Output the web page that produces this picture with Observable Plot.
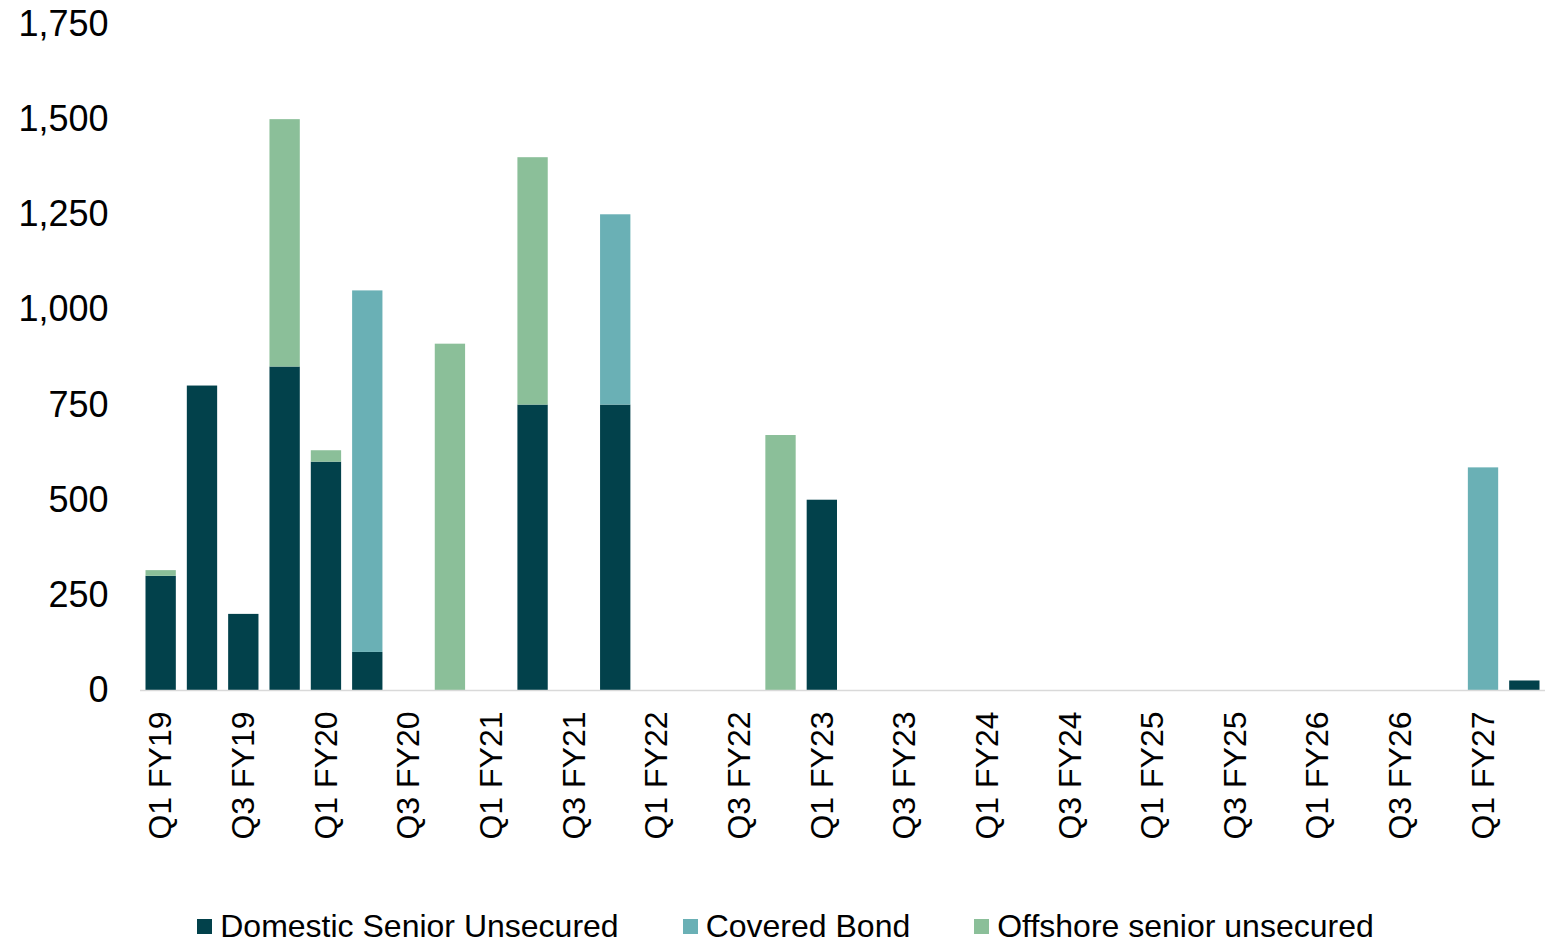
<!DOCTYPE html>
<html>
<head>
<meta charset="utf-8">
<script src="https://cdn.jsdelivr.net/npm/d3@7"></script>
<script src="https://cdn.jsdelivr.net/npm/@observablehq/plot@0.6"></script>
<style>
  body { margin: 0; background: #fff; font-family: "Liberation Sans", Arial, sans-serif; overflow: hidden; }
  #chart svg { display: block; }
  #legend { display: flex; justify-content: center; align-items: center; height: 32px; line-height: 32px; margin-top: 10px; padding-left: 22px; font-size: 32px; color: #000; }
  .item { display: flex; align-items: center; margin: 0 32px; }
  .sw { width: 15px; height: 15px; margin-right: 8px; }
</style>
</head>
<body>
<div id="chart"></div>
<div id="legend"></div>
<script>
const quarters = [
  "Q1 FY19","Q2 FY19","Q3 FY19","Q4 FY19",
  "Q1 FY20","Q2 FY20","Q3 FY20","Q4 FY20",
  "Q1 FY21","Q2 FY21","Q3 FY21","Q4 FY21",
  "Q1 FY22","Q2 FY22","Q3 FY22","Q4 FY22",
  "Q1 FY23","Q2 FY23","Q3 FY23","Q4 FY23",
  "Q1 FY24","Q2 FY24","Q3 FY24","Q4 FY24",
  "Q1 FY25","Q2 FY25","Q3 FY25","Q4 FY25",
  "Q1 FY26","Q2 FY26","Q3 FY26","Q4 FY26",
  "Q1 FY27","Q2 FY27"
];
const tickLabels = [
  "Q1 FY19","Q3 FY19","Q1 FY20","Q3 FY20","Q1 FY21","Q3 FY21","Q1 FY22","Q3 FY22",
  "Q1 FY23","Q3 FY23","Q1 FY24","Q3 FY24","Q1 FY25","Q3 FY25","Q1 FY26","Q3 FY26","Q1 FY27"
];
const domestic = [300,800,200,850, 600,100,0,0, 0,750,0,750, 0,0,0,0, 500,0,0,0, 0,0,0,0, 0,0,0,0, 0,0,0,0, 0,25];
const covered  = [0,0,0,0, 0,950,0,0, 0,0,0,500, 0,0,0,0, 0,0,0,0, 0,0,0,0, 0,0,0,0, 0,0,0,0, 585,0];
const offshore = [15,0,0,650, 30,0,0,910, 0,650,0,0, 0,0,0,670, 0,0,0,0, 0,0,0,0, 0,0,0,0, 0,0,0,0, 0,0];
const seriesNames = ["Domestic Senior Unsecured","Covered Bond","Offshore senior unsecured"];
const seriesColors = ["#02414B","#6AB0B5","#8BBF99"];
const yTicks = [0,250,500,750,1000,1250,1500,1750];

const seriesValues = [domestic, covered, offshore];
const rows = [];
quarters.forEach((q, i) => {
  seriesValues.forEach((vals, s) => {
    rows.push({quarter: q, series: seriesNames[s], value: vals[i]});
  });
});

const font = "Liberation Sans, Arial, sans-serif";
const chart = Plot.plot({
  width: 1549,
  height: 900,
  marginLeft: 140,
  marginRight: 4,
  marginTop: 24,
  marginBottom: 210,
  style: {fontFamily: font, color: "#000", background: "#fff"},
  x: {type: "band", domain: quarters, padding: 0, round: false},
  y: {domain: [0, 1750]},
  color: {domain: seriesNames, range: seriesColors},
  marks: [
    Plot.barY(rows, Plot.stackY({x: "quarter", y: "value", z: "series", fill: "series", insetLeft: 5.5, insetRight: 5.5})),
    Plot.ruleY([0], {stroke: "#d9d9d9", strokeWidth: 1.5}),
    Plot.axisY({ticks: yTicks, tickFormat: d3.format(","), tickSize: 0, tickPadding: 32, fontSize: 36, label: null, fill: "#000"}),
    Plot.axisX({ticks: tickLabels, tickSize: 0, tickRotate: -90, tickPadding: 21, fontSize: 32, label: null, fill: "#000"})
  ]
});
document.getElementById("chart").appendChild(chart);

const legend = document.getElementById("legend");
seriesNames.forEach((name, i) => {
  const item = document.createElement("div");
  item.className = "item";
  const sw = document.createElement("div");
  sw.className = "sw";
  sw.style.background = seriesColors[i];
  const t = document.createElement("span");
  t.textContent = name;
  item.appendChild(sw);
  item.appendChild(t);
  legend.appendChild(item);
});
</script>
</body>
</html>
